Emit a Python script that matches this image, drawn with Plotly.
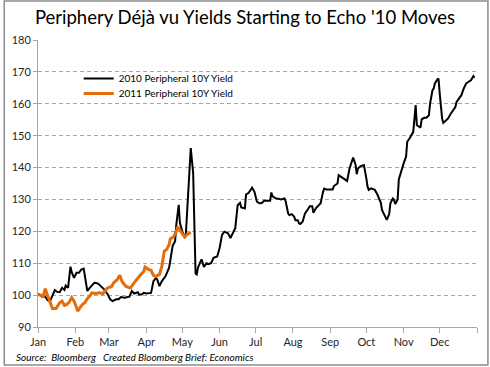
import pandas as pd
import plotly.graph_objects as go

# ---- data (day offsets from Jan 1, yields indexed) ----
days_2010 = [0, 3, 6, 8, 10, 12, 14, 16, 18, 20, 22, 23, 25, 27, 28, 30, 32, 34, 36, 38, 39, 41, 43, 45, 47, 50, 52, 55,
             58, 60, 62, 65, 67, 69, 72, 74, 76, 78, 80, 83, 84, 86, 88, 90, 92, 94, 96, 98, 99, 101, 103, 106, 109, 111,
             112, 114, 115, 117, 118, 120, 122, 123, 125, 126, 127, 129, 130, 131, 132, 133, 135, 136, 138, 140, 142, 144,
             146, 148, 149, 151, 153, 155, 158, 160, 162, 164, 166, 168, 169, 172, 173, 175, 177, 178, 180, 182, 184, 186,
             188, 190, 193, 194, 195, 197, 198, 200, 202, 205, 206, 208, 209, 211, 213, 214, 216, 217, 218, 220, 222, 224,
             226, 228, 229, 231, 234, 235, 237, 238, 240, 243, 245, 246, 249, 250, 252, 255, 257, 259, 261, 262, 264, 265,
             266, 268, 271, 272, 273, 274, 275, 277, 279, 280, 282, 284, 285, 286, 288, 289, 290, 292, 293, 295, 296, 297,
             299, 300, 301, 303, 304, 306, 307, 309, 311, 312, 314, 315, 317, 318, 319, 321, 323, 325, 326, 328, 329, 330,
             332, 333, 334, 336, 337, 339, 341, 343, 345, 347, 348, 350, 352, 354, 356, 358, 360, 362, 363]
yield_2010 = [100.4, 99.7, 99.5, 98.4, 98.1, 99.7, 101.6, 101.0, 100.9, 102.3, 101.6, 103.0, 102.3, 108.9, 107.2, 105.4,
              107.0, 107.0, 108.0, 108.3, 105.9, 101.3, 102.3, 103.0, 103.9, 103.6, 102.8, 101.8, 100.2, 98.7, 98.1, 98.7,
              98.7, 99.4, 99.2, 99.4, 99.5, 101.3, 100.5, 100.9, 100.2, 100.2, 100.7, 100.5, 100.5, 100.7, 104.4, 105.4,
              105.0, 102.8, 104.4, 105.9, 108.6, 112.7, 115.5, 116.9, 122.1, 128.3, 122.6, 120.0, 117.9, 119.5, 135.1,
              142.9, 146.1, 138.3, 117.4, 106.8, 106.5, 108.6, 110.4, 111.2, 108.8, 110.0, 109.7, 110.1, 111.7, 112.1,
              112.1, 114.8, 118.9, 119.9, 119.4, 117.9, 119.4, 121.0, 128.2, 128.9, 127.5, 127.2, 131.6, 132.0, 133.1,
              133.7, 132.4, 129.3, 128.8, 128.9, 129.6, 129.6, 129.6, 132.2, 131.0, 130.5, 130.3, 130.2, 130.0, 130.3,
              129.3, 125.6, 125.1, 125.4, 124.6, 123.5, 123.5, 122.5, 122.3, 123.0, 125.6, 126.7, 127.9, 127.9, 125.8,
              127.2, 128.2, 128.8, 132.4, 133.4, 133.1, 133.1, 133.1, 134.2, 135.0, 137.6, 137.1, 136.3, 135.8, 139.7,
              141.8, 143.1, 141.0, 137.9, 139.7, 140.4, 140.8, 139.2, 136.6, 134.0, 133.0, 133.5, 133.0, 133.0, 131.7,
              129.9, 129.0, 126.7, 125.1, 124.4, 123.6, 125.4, 128.8, 130.3, 129.9, 128.6, 130.0, 136.3, 137.7, 139.8,
              141.3, 143.4, 148.1, 149.2, 150.9, 151.2, 159.6, 153.3, 152.8, 152.5, 155.1, 155.6, 155.6, 156.4, 160.1,
              164.3, 164.8, 166.4, 167.6, 167.9, 163.2, 155.4, 154.0, 154.7, 155.4, 156.8, 158.0, 159.0, 160.6, 161.7,
              162.7, 164.8, 166.4, 166.9, 167.4, 168.7, 168.2]

days_2011 = [0, 3, 4, 6, 8, 10, 12, 15, 17, 18, 20, 22, 24, 26, 28, 30, 32, 33, 35, 37, 39, 41, 43, 45, 48, 51, 54, 56,
             58, 61, 63, 66, 68, 70, 73, 76, 77, 80, 83, 85, 88, 89, 92, 94, 96, 98, 101, 103, 105, 107, 109, 110, 113,
             115, 116, 118, 120, 122, 124, 127]
yield_2011 = [100.2, 99.9, 99.2, 102.0, 99.9, 97.6, 95.8, 95.8, 96.8, 97.6, 98.1, 96.8, 97.1, 97.8, 99.2, 98.1, 96.1,
              95.0, 96.1, 97.1, 97.6, 98.9, 99.7, 100.7, 100.5, 100.7, 100.5, 101.3, 102.3, 102.6, 103.9, 104.9, 106.2,
              104.2, 102.8, 102.3, 102.3, 103.9, 105.4, 106.2, 107.5, 108.8, 108.0, 107.8, 106.2, 105.9, 106.5, 109.1,
              113.8, 114.3, 115.8, 117.6, 118.4, 120.0, 121.4, 120.5, 119.2, 118.3, 119.0, 119.7]

month_labels = ["Jan", "Feb", "Mar", "Apr", "May", "Jun", "Jul", "Aug", "Sep", "Oct", "Nov", "Dec", ""]
y_ticks = [90, 100, 110, 120, 130, 140, 150, 160, 170, 180]

base = pd.Timestamp("2010-01-01")
x2010 = [base + pd.Timedelta(days=d) for d in days_2010]
x2011 = [base + pd.Timedelta(days=d) for d in days_2011]
month_starts = list(pd.date_range("2010-01-01", "2011-01-01", freq="MS"))

FONT = "Lato, 'Liberation Sans', sans-serif"

fig = go.Figure()
fig.add_trace(go.Scatter(x=x2010, y=yield_2010, mode="lines", name="2010 Peripheral 10Y Yield",
                         line=dict(color="#000000", width=2), legend="legend"))
fig.add_trace(go.Scatter(x=x2011, y=yield_2011, mode="lines", name="2011 Peripheral 10Y Yield",
                         line=dict(color="#E46C0A", width=3), legend="legend2"))

leg_common = dict(xanchor="left", yanchor="top", bgcolor="rgba(0,0,0,0)",
                  font=dict(size=10, color="#000000"))
fig.update_layout(
    width=490, height=367,
    margin=dict(l=35, r=13, t=40, b=40),
    paper_bgcolor="white", plot_bgcolor="white",
    font=dict(family=FONT, color="#262626"),
    title=dict(text="Periphery Déjà vu Yields Starting to Echo '10 Moves",
               x=0.5, xanchor="center", xref="container",
               y=1 - 18 / 367, yanchor="middle", yref="container",
               font=dict(family=FONT, size=18.5, color="#000000")),
    showlegend=True,
    legend=dict(x=(76 - 35) / 442, y=(327 - 64) / 287, **leg_common),
    legend2=dict(x=(76 - 35) / 442, y=(327 - 79) / 287, **leg_common),
)
fig.update_xaxes(
    type="date", range=[month_starts[0], month_starts[-1]],
    tickvals=month_starts, ticktext=month_labels,
    showgrid=False, showline=True, linecolor="#A6A6A6", linewidth=1,
    ticks="outside", ticklen=5, tickcolor="#A6A6A6",
    tickfont=dict(size=11, color="#262626"), zeroline=False,
)
fig.update_yaxes(
    range=[90, 180], tickvals=y_ticks,
    showgrid=True, gridcolor="#A6A6A6", griddash="4px,3px", gridwidth=1,
    showline=True, linecolor="#A6A6A6", linewidth=1,
    ticks="outside", ticklen=4, tickcolor="#A6A6A6",
    tickfont=dict(size=11, color="#262626"), zeroline=False,
)
fig.add_annotation(text="<i>Source:  Bloomberg   Created Bloomberg Brief: Economics</i>",
                   xref="paper", yref="paper", x=(11 - 35) / 442, y=(327 - 357) / 287,
                   xanchor="left", yanchor="middle", showarrow=False,
                   font=dict(size=10, color="#000000"))
fig.add_shape(type="rect", xref="paper", yref="paper",
              x0=(1 - 35) / 442, x1=(488 - 35) / 442, y0=(327 - 365) / 287, y1=(327 - 1) / 287,
              line=dict(color="#8C8C8C", width=1.5), fillcolor="rgba(0,0,0,0)", layer="above")

fig.write_html("out.html", config={"displayModeBar": False},
               post_script="document.body.style.margin='0';document.body.style.overflow='hidden';")
